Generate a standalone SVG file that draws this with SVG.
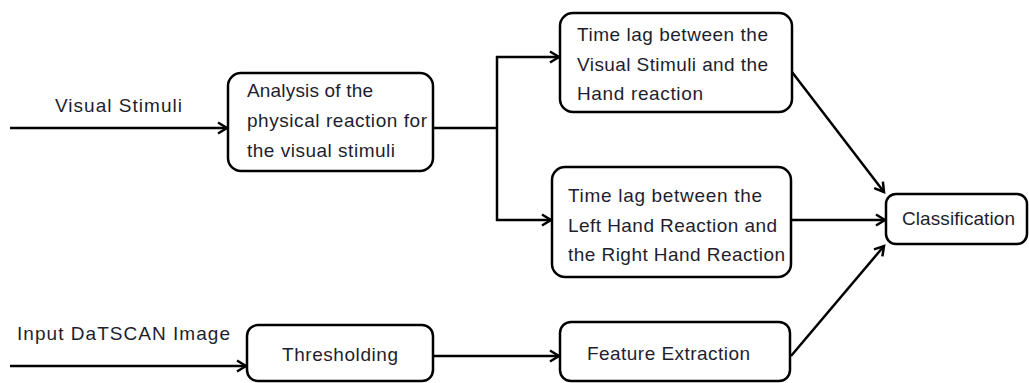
<svg xmlns="http://www.w3.org/2000/svg" width="1029" height="383" viewBox="0 0 1029 383">
<style>
.box{fill:#fff;stroke:#000;stroke-width:2.5}
.t{font-family:"Liberation Sans",Arial,sans-serif;font-size:19px;fill:#1e1e2e}
.c{fill:none;stroke:#000;stroke-width:2.5}
</style>
<defs>
<marker id="ah" markerWidth="14" markerHeight="14" refX="11" refY="7" orient="auto" markerUnits="userSpaceOnUse">
<path d="M2,1.5 L11,7 L2,12.5" fill="none" stroke="#000" stroke-width="2.5"/>
</marker>
</defs>
<rect width="1029" height="383" fill="#fff"/>
<g id="connectors">
<line class="c" x1="10" y1="128" x2="227" y2="128" marker-end="url(#ah)"/>
<line class="c" x1="433" y1="128" x2="497" y2="128" stroke-width="4"/>
<line class="c" x1="497" y1="56" x2="497" y2="221"/>
<line class="c" x1="496" y1="57" x2="559" y2="57" marker-end="url(#ah)"/>
<line class="c" x1="496" y1="220" x2="551" y2="220" marker-end="url(#ah)"/>
<line class="c" x1="792" y1="72" x2="884" y2="192" marker-end="url(#ah)"/>
<line class="c" x1="790" y1="220" x2="885" y2="220" marker-end="url(#ah)"/>
<line class="c" x1="791" y1="356" x2="884" y2="246" marker-end="url(#ah)"/>
<line class="c" x1="10" y1="366" x2="246" y2="366" marker-end="url(#ah)"/>
<line class="c" x1="433" y1="356" x2="559" y2="356" marker-end="url(#ah)"/>
<text class="t" x="55" y="112" textLength="127" lengthAdjust="spacing">Visual Stimuli</text>
<text class="t" x="17" y="340" textLength="213" lengthAdjust="spacing">Input DaTSCAN Image</text>
</g>
<g id="analysis">
<rect class="box" x="228" y="73" width="205" height="98" rx="13"/>
<text class="t" x="247" y="97" textLength="126" lengthAdjust="spacing">Analysis of the</text>
<text class="t" x="247" y="127" textLength="180" lengthAdjust="spacing">physical reaction for</text>
<text class="t" x="247" y="157" textLength="148" lengthAdjust="spacing">the visual stimuli</text>
</g>
<g id="lag-visual-hand">
<rect class="box" x="560" y="13" width="232" height="99" rx="13"/>
<text class="t" x="577" y="41" textLength="191" lengthAdjust="spacing">Time lag between the</text>
<text class="t" x="577" y="71" textLength="191" lengthAdjust="spacing">Visual Stimuli and the</text>
<text class="t" x="577" y="100" textLength="126" lengthAdjust="spacing">Hand reaction</text>
</g>
<g id="lag-left-right">
<rect class="box" x="552" y="167" width="239" height="110" rx="13"/>
<text class="t" x="568" y="202" textLength="194" lengthAdjust="spacing">Time lag between the</text>
<text class="t" x="568" y="232" textLength="209" lengthAdjust="spacing">Left Hand Reaction and</text>
<text class="t" x="568" y="261" textLength="217" lengthAdjust="spacing">the Right Hand Reaction</text>
</g>
<g id="classification">
<rect class="box" x="886" y="194" width="141" height="50" rx="10"/>
<text class="t" x="902" y="225" textLength="113" lengthAdjust="spacing">Classification</text>
</g>
<g id="thresholding">
<rect class="box" x="247" y="325" width="186" height="56" rx="11"/>
<text class="t" x="282" y="361" textLength="116" lengthAdjust="spacing">Thresholding</text>
</g>
<g id="feature-extraction">
<rect class="box" x="560" y="322" width="230" height="59" rx="11"/>
<text class="t" x="587" y="360" textLength="163" lengthAdjust="spacing">Feature Extraction</text>
</g>
</svg>
